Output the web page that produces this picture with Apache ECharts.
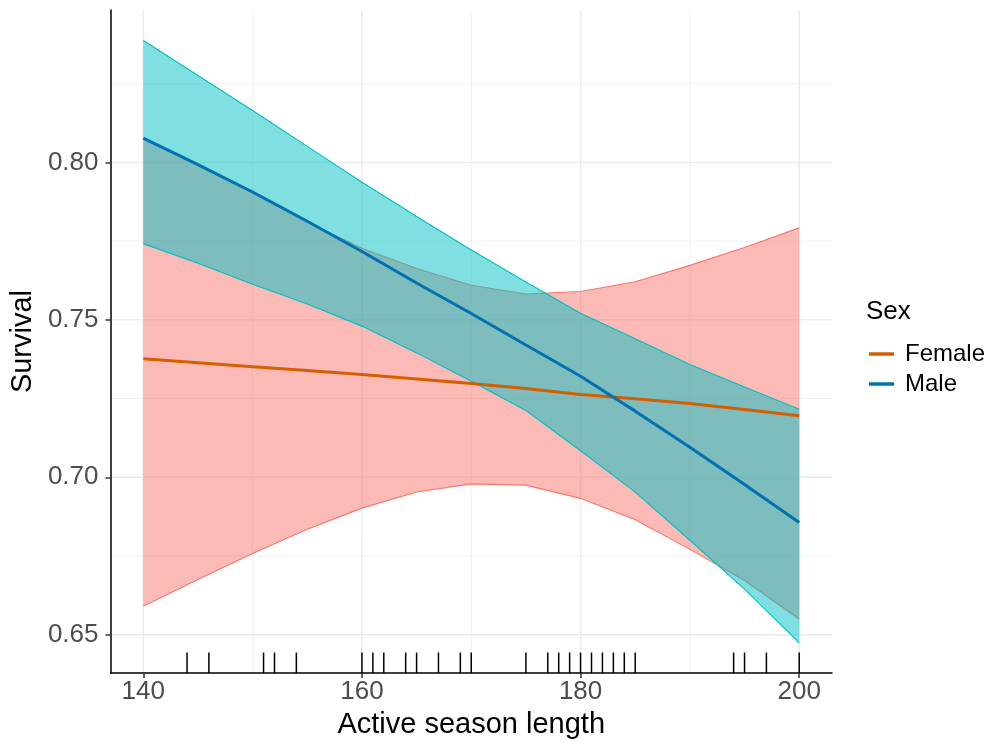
<!DOCTYPE html>
<html>
<head>
<meta charset="utf-8">
<script src="https://cdn.jsdelivr.net/npm/echarts@6/dist/echarts.min.js"></script>
<style>
html,body{margin:0;padding:0;background:#fff;}
#chart{width:989px;height:744px;}
</style>
</head>
<body>
<div id="chart"></div>
<script>
// ---- data ----
const xVals      = [140, 145, 150, 155, 160, 165, 170, 175, 180, 185, 190, 195, 200];
const femaleFit  = [0.7376, 0.7364, 0.7351, 0.7339, 0.7326, 0.7312, 0.7298, 0.7282, 0.7263, 0.7249, 0.7234, 0.7215, 0.7195];
const femaleLow  = [0.6590, 0.6675, 0.6758, 0.6835, 0.6902, 0.6953, 0.6979, 0.6975, 0.6933, 0.6865, 0.6771, 0.6672, 0.6550];
const femaleHigh = [0.8075, 0.7990, 0.7903, 0.7810, 0.7727, 0.7663, 0.7610, 0.7582, 0.7590, 0.7621, 0.7673, 0.7730, 0.7792];
const maleFit    = [0.8077, 0.7993, 0.7906, 0.7813, 0.7717, 0.7617, 0.7520, 0.7420, 0.7321, 0.7210, 0.7095, 0.6977, 0.6856];
const maleLow    = [0.7742, 0.7680, 0.7613, 0.7550, 0.7480, 0.7395, 0.7305, 0.7212, 0.7084, 0.6953, 0.6800, 0.6645, 0.6474];
const maleHigh   = [0.8387, 0.8276, 0.8165, 0.8051, 0.7937, 0.7828, 0.7722, 0.7620, 0.7521, 0.7440, 0.7358, 0.7287, 0.7216];
const rugX       = [144, 146, 151, 152, 154, 160, 161, 162, 164, 165, 167, 169, 170, 175, 177, 178, 179, 180, 181, 182, 183, 184, 185, 194, 195, 197, 200];
const xTickVals  = [140, 160, 180, 200];
const xMinorVals = [150, 170, 190];
const yTickVals  = [0.65, 0.70, 0.75, 0.80];
const yMinorVals = [0.675, 0.725, 0.775, 0.825];
const seriesNames = ['Female', 'Male'];

// ---- layout / style ----
const X_MIN = 137, X_MAX = 203;
const Y_MIN = 0.6378, Y_MAX = 0.8484;
const FONT = 'Liberation Sans, Arial, Helvetica, sans-serif';
const C_F_BAND = '#F8766D', C_M_BAND = '#00BFC4';
const C_F_LINE = '#D55E00', C_M_LINE = '#0072B2';
const GRID_MAJOR = '#EBEBEB', GRID_MINOR = '#F0F0F0';

const pairs = (ys) => xVals.map((x, i) => [x, ys[i]]);

// gridlines drawn through the axes' scales, under everything else
const gridSeries = {
  type: 'custom', z: 0, silent: true, clip: true,
  data: [[0]],
  renderItem: function (params, api) {
    const cs = params.coordSys;
    const children = [];
    const vline = (v, col, w) => {
      const p = api.coord([v, Y_MIN]);
      children.push({type: 'line', shape: {x1: p[0], y1: cs.y, x2: p[0], y2: cs.y + cs.height}, style: {stroke: col, lineWidth: w}});
    };
    const hline = (v, col, w) => {
      const p = api.coord([X_MIN, v]);
      children.push({type: 'line', shape: {x1: cs.x, y1: p[1], x2: cs.x + cs.width, y2: p[1]}, style: {stroke: col, lineWidth: w}});
    };
    xMinorVals.forEach(v => vline(v, GRID_MINOR, 1));
    yMinorVals.forEach(v => hline(v, GRID_MINOR, 1));
    xTickVals.forEach(v => vline(v, GRID_MAJOR, 1.5));
    yTickVals.forEach(v => hline(v, GRID_MAJOR, 1.5));
    return {type: 'group', children: children};
  }
};

function bandSeries(low, high, color, z) {
  return {
    type: 'custom', z: z, silent: true, clip: true,
    data: xVals.map((x, i) => [x, low[i], high[i]]),
    encode: {x: 0, y: [1, 2]},
    renderItem: function (params, api) {
      if (params.dataIndex !== 0) return null;
      const lo = xVals.map((x, i) => api.coord([x, low[i]]));
      const hi = xVals.map((x, i) => api.coord([x, high[i]]));
      const poly = lo.concat(hi.slice().reverse());
      return {
        type: 'group',
        children: [
          {type: 'polygon', shape: {points: poly}, style: {fill: color, opacity: 0.5}},
          {type: 'polyline', shape: {points: lo}, style: {stroke: color, lineWidth: 1.1, fill: null}},
          {type: 'polyline', shape: {points: hi}, style: {stroke: color, lineWidth: 1.1, fill: null}}
        ]
      };
    }
  };
}

const chart = echarts.init(document.getElementById('chart'), null, {renderer: 'canvas'});
chart.setOption({
  animation: false,
  backgroundColor: '#ffffff',
  textStyle: {fontFamily: FONT},
  grid: {left: 108, right: 157, top: 10, bottom: 67, containLabel: false},
  title: {
    text: 'Sex', left: 861, top: 294,
    textStyle: {fontFamily: FONT, fontSize: 26, fontWeight: 'normal', color: '#000'}
  },
  legend: {
    data: seriesNames,
    orient: 'vertical', left: 864, top: 337,
    icon: 'rect', itemWidth: 25, itemHeight: 3.5, itemGap: 6,
    textStyle: {fontFamily: FONT, fontSize: 24, color: '#000', padding: [0, 0, 0, 6]},
    selectedMode: false
  },
  xAxis: {
    type: 'value', min: X_MIN, max: X_MAX, z: 10,
    name: 'Active season length', nameLocation: 'middle', nameGap: 36,
    nameTextStyle: {fontFamily: FONT, fontSize: 29, color: '#000'},
    axisLine: {show: true, onZero: false, lineStyle: {color: '#000', width: 1.5}},
    axisTick: {show: true, customValues: xTickVals, length: 5, lineStyle: {color: '#333', width: 1.5}},
    axisLabel: {customValues: xTickVals, margin: 6, fontFamily: FONT, fontSize: 26, color: '#4D4D4D', formatter: v => String(v)},
    splitLine: {show: false}, minorSplitLine: {show: false}
  },
  yAxis: {
    type: 'value', min: Y_MIN, max: Y_MAX, z: 10,
    name: 'Survival', nameLocation: 'middle', nameGap: 72, nameRotate: 90,
    nameTextStyle: {fontFamily: FONT, fontSize: 29, color: '#000'},
    axisLine: {show: true, onZero: false, lineStyle: {color: '#000', width: 1.5}},
    axisTick: {show: true, customValues: yTickVals, length: 5, lineStyle: {color: '#333', width: 1.5}},
    axisLabel: {customValues: yTickVals, margin: 12, fontFamily: FONT, fontSize: 26, color: '#4D4D4D', formatter: v => v.toFixed(2)},
    splitLine: {show: false}, minorSplitLine: {show: false}
  },
  series: [
    gridSeries,
    bandSeries(femaleLow, femaleHigh, C_F_BAND, 2),
    bandSeries(maleLow, maleHigh, C_M_BAND, 3),
    {
      name: 'Female', type: 'line', data: pairs(femaleFit), symbol: 'none', z: 5,
      lineStyle: {color: C_F_LINE, width: 3}, itemStyle: {color: C_F_LINE}
    },
    {
      name: 'Male', type: 'line', data: pairs(maleFit), symbol: 'none', z: 6,
      lineStyle: {color: C_M_LINE, width: 3}, itemStyle: {color: C_M_LINE}
    },
    {
      type: 'custom', data: rugX.map(x => [x]), z: 7, silent: true,
      renderItem: function (params, api) {
        const p = api.coord([api.value(0), Y_MIN]);
        const len = params.coordSys.height * 0.031;
        return {
          type: 'line',
          shape: {x1: p[0], y1: p[1], x2: p[0], y2: p[1] - len},
          style: {stroke: '#000', lineWidth: 1.5}
        };
      }
    }
  ]
});
</script>
</body>
</html>
